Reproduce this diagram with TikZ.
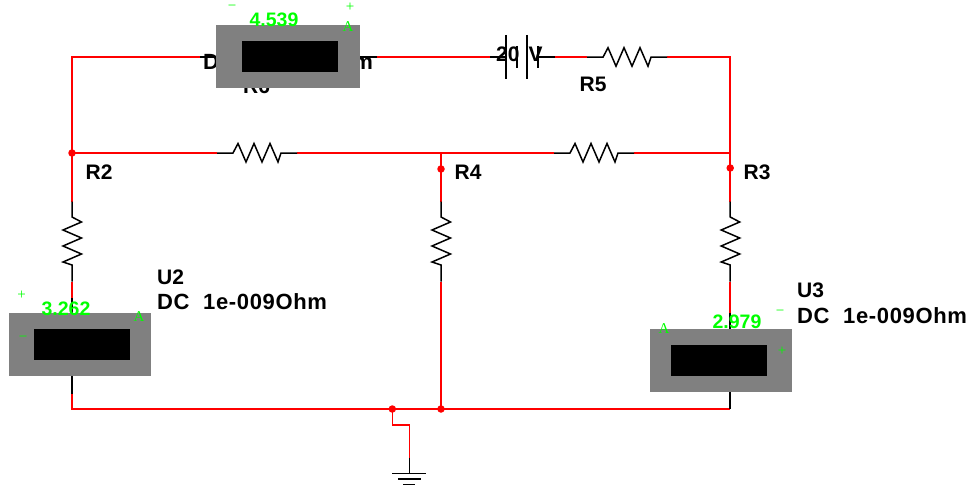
\documentclass[tikz,border=0pt]{standalone}
\usepackage{fontspec}
\setmainfont{Liberation Sans}
\newfontfamily\thinserif{Liberation Serif}
\definecolor{wirered}{RGB}{255,0,0}
\definecolor{metergray}{RGB}{128,128,128}
\definecolor{metergreen}{RGB}{0,255,0}
\newcommand{\dcvalue}{{\fontsize{22}{22}\selectfont\addfontfeature{LetterSpace=3}DC\hspace{13.5pt}1e-009Ohm}}
\tikzset{
  wire/.style={draw=wirered,line width=1.6pt},
  part/.style={draw=black,line width=1.5pt,line join=miter},
  bar/.style={draw=black,line width=1.8pt},
  dotj/.style={circle,fill=wirered,draw=none,minimum size=7.5pt,inner sep=0pt},
  lbl/.style={anchor=base west,inner sep=0pt,font=\fontsize{21}{21}\selectfont\bfseries},
  reading/.style={anchor=base,inner sep=0pt,text=metergreen,font=\fontsize{19.5}{20}\selectfont\bfseries},
  sign/.style={anchor=base,inner sep=0pt,text=metergreen,font=\fontsize{15}{15}\selectfont\thinserif},
  meter/.style={fill=metergray,draw=none,inner sep=0pt,minimum width=142pt,minimum height=63pt},
  screen/.style={fill=black,draw=none,inner sep=0pt,minimum width=95.5pt,minimum height=31pt}
}
\begin{document}
\begin{tikzpicture}[x=1pt,y=-1pt]
\useasboundingbox (0,0) rectangle (971,487);
% corners and junction points
\coordinate (tl) at (72,57.2);
\coordinate (tr) at (730.2,57.2);
\coordinate (ml) at (72,153);
\coordinate (mm) at (441,153);
\coordinate (mr) at (730.2,153);
\coordinate (bl) at (72,409);
\coordinate (br) at (730.2,409);
\coordinate (bm) at (441,409);
\coordinate (bg) at (392.3,409);
\coordinate (m1a) at (72,201.5);\coordinate (m2a) at (441,201.5);\coordinate (m3a) at (730.2,201.5);
\coordinate (m1b) at (72,281.5);\coordinate (m2b) at (441,281.5);\coordinate (m3b) at (730.2,281.5);
\coordinate (u2t) at (72,298);\coordinate (u2b) at (72,394);
\coordinate (u3t) at (730.2,313);\coordinate (u3b) at (730.2,409);
\coordinate (u1l) at (200,57.2);\coordinate (u1r) at (377,57.2);
\coordinate (batl) at (490,57.2);\coordinate (batr) at (555,57.2);
\coordinate (r5l) at (587,57.2);\coordinate (r5r) at (667,57.2);
\coordinate (r1l) at (217,153);\coordinate (r1r) at (297,153);
\coordinate (r2l) at (554,153);\coordinate (r2r) at (634,153);
\coordinate (g1) at (392.3,425);\coordinate (g2) at (409.3,425);\coordinate (g3) at (409.3,457.5);\coordinate (g4) at (409.3,473.5);
% red wires
\draw[wire] (u1l) -- (tl) -- (ml) -- (m1a);
\draw[wire] (u1r) -- (batl);
\draw[wire] (batr) -- (r5l);
\draw[wire] (r5r) -- (tr) -- (mr) -- (m3a);
\draw[wire] (ml) -- (r1l);
\draw[wire] (r1r) -- (mm) -- (m2a);
\draw[wire] (mm) -- (r2l);
\draw[wire] (r2r) -- (mr);
\draw[wire] (m1b) -- (u2t);
\draw[wire] (m2b) -- (bm);
\draw[wire] (m3b) -- (u3t);
\draw[wire] (u2b) -- (bl) -- (br);
\draw[wire] (bg) -- (g1) -- (g2) -- (g3);
% horizontal resistors
\draw[part] (r1l) -- ++(16,0) -- ++(5,-9.5) -- ++(8,18.5) -- ++(8,-18.5) -- ++(8,18.5) -- ++(8,-18.5) -- ++(8,18.5) -- ++(3,-9) -- (r1r);
\draw[part] (r2l) -- ++(16,0) -- ++(5,-9.5) -- ++(8,18.5) -- ++(8,-18.5) -- ++(8,18.5) -- ++(8,-18.5) -- ++(8,18.5) -- ++(3,-9) -- (r2r);
\draw[part] (r5l) -- ++(16,0) -- ++(5,-9.5) -- ++(8,18.5) -- ++(8,-18.5) -- ++(8,18.5) -- ++(8,-18.5) -- ++(8,18.5) -- ++(3,-9) -- (r5r);
% vertical resistors
\draw[part] (m1a) -- ++(0,15.5) -- ++(9.5,5) -- ++(-18.5,8) -- ++(18.5,8) -- ++(-18.5,8) -- ++(18.5,8) -- ++(-18.5,8) -- ++(9,3) -- (m1b);
\draw[part] (m2a) -- ++(0,15.5) -- ++(9.5,5) -- ++(-18.5,8) -- ++(18.5,8) -- ++(-18.5,8) -- ++(18.5,8) -- ++(-18.5,8) -- ++(9,3) -- (m2b);
\draw[part] (m3a) -- ++(0,15.5) -- ++(9.5,5) -- ++(-18.5,8) -- ++(18.5,8) -- ++(-18.5,8) -- ++(18.5,8) -- ++(-18.5,8) -- ++(9,3) -- (m3b);
% meter leads
\draw[part] (u1l) -- (217,57.2);
\draw[part] (360,57.2) -- (u1r);
\draw[part] (u2t) -- (72,314);
\draw[part] (72,376) -- (u2b);
\draw[part] (u3t) -- (730.2,330);
\draw[part] (730.2,392) -- (u3b);
% battery
\coordinate (p1) at (506,35);\coordinate (p1b) at (506,79);
\coordinate (p2) at (517,46);\coordinate (p2b) at (517,68);
\coordinate (p3) at (527,35);\coordinate (p3b) at (527,79);
\coordinate (p4) at (538,46);\coordinate (p4b) at (538,68);
\draw[part] (batl) -- (506,57.2);
\draw[part] (538,57.2) -- (batr);
\draw[bar] (p1) -- (p1b);
\draw[bar] (p2) -- (p2b);
\draw[bar] (p3) -- (p3b);
\draw[bar] (p4) -- (p4b);
% ground
\draw[part] (g3) -- (g4);
\draw[bar] (392,473.5) -- (426,473.5);
\draw[bar] (398,479) -- (421,479);
\draw[bar] (403,484.5) -- (415,484.5);
% junctions
\node[dotj] (j1) at (ml) {};
\node[dotj] (j2) at (441,169) {};
\node[dotj] (j3) at (730.2,168) {};
\node[dotj] (j4) at (bg) {};
\node[dotj] (j5) at (bm) {};
% labels
\node[lbl] (lr2) at (85.5,179) {R2};
\node[lbl] (lr4) at (454.5,179) {R4};
\node[lbl] (lr3) at (743.5,179) {R3};
\node[lbl] (lr5) at (579.5,92) {R5};
\node[lbl] (lu2) at (157,284) {U2};
\node[lbl] (ld2) at (157,309) {\dcvalue};
\node[lbl] (lu3) at (797,297) {U3};
\node[lbl] (ld3) at (797,323) {\dcvalue};
\node[lbl] (ld1) at (203,70) {\dcvalue};
\node[lbl] (lr6) at (243,93) {R6};
\node[lbl] (lb) at (496,62) {20\hspace{9pt}V};
% ammeters
\node[meter,minimum width=143.6pt] (m1) at (288.2,56.5) {};
\node[screen] (s1) at (290,56.5) {};
\node[meter] (m2) at (80,344.5) {};
\node[screen] (s2) at (82,344.5) {};
\node[meter] (m3) at (720.8,360.5) {};
\node[screen] (s3) at (719,360.5) {};
\node[reading] (v1) at (274,27) {4.539};
\node[reading] (v2) at (66,315) {3.262};
\node[reading] (v3) at (737,328) {2.979};
\node[sign] (a1m) at (232,10.5) {−};
\node[sign] (a1p) at (350,11.5) {+};
\node[sign] (a1a) at (348,32) {A};
\node[sign] (a2p) at (21.5,299.5) {+};
\node[sign] (a2m) at (23,341) {−};
\node[sign] (a2a) at (139,321.5) {A};
\node[sign] (a3m) at (780,315) {−};
\node[sign] (a3p) at (782,355.5) {+};
\node[sign] (a3a) at (664,333) {A};
\end{tikzpicture}
\end{document}
